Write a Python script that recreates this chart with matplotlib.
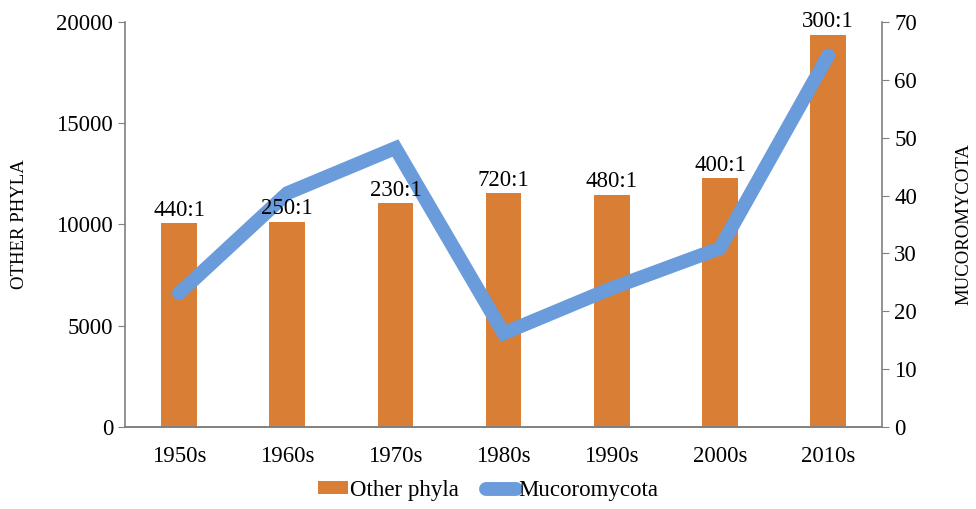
import matplotlib.pyplot as plt
import numpy as np

decades = ["1950s", "1960s", "1970s", "1980s", "1990s", "2000s", "2010s"]
other_phyla = [10050, 10140, 11050, 11540, 11460, 12280, 19360]
mucoromycota = [23.1, 40.4, 48.2, 16.2, 24.0, 30.9, 64.2]
ratios = ["440:1", "250:1", "230:1", "720:1", "480:1", "400:1", "300:1"]

plt.rcParams["font.family"] = ["Liberation Serif", "DejaVu Serif"]
bar_color = "#D87E35"
line_color = "#6A9BDA"
spine_color = "#808080"

fig = plt.figure(figsize=(9.76, 5.09), dpi=100)
ax = fig.add_axes([0.128, 0.161, 0.776, 0.796])
x = np.arange(len(decades))

bars = ax.bar(x, other_phyla, width=0.33, color=bar_color, label="Other phyla", zorder=2)

ax.set_ylim(0, 20000)
ax.set_xlim(-0.5, len(decades) - 0.5)
ax.set_yticks([0, 5000, 10000, 15000, 20000])
ax.set_xticks(x)
ax.set_xticklabels(decades)
ax.set_ylabel("OTHER PHYLA", fontsize=13.5, labelpad=20)
ax.tick_params(axis="y", labelsize=16.5, length=5, color=spine_color)
ax.tick_params(axis="x", labelsize=16.5, length=0, pad=14)

ax2 = ax.twinx()
line, = ax2.plot(x, mucoromycota, color=line_color, linewidth=10,
                 solid_joinstyle="miter", solid_capstyle="round",
                 label="Mucoromycota", zorder=3)
ax2.set_ylim(0, 70)
ax2.set_yticks(range(0, 71, 10))
ax2.set_ylabel("MUCOROMYCOTA", fontsize=13.5, labelpad=28)
ax2.tick_params(axis="y", labelsize=16.5, length=5, color=spine_color)

# ratio labels sit above the bars and on top of the line
for xi, v, r in zip(x, other_phyla, ratios):
    ax2.text(xi, v + 120, r, transform=ax.transData, ha="center", va="bottom",
             fontsize=16.5, zorder=5)

for a in (ax, ax2):
    a.spines["top"].set_visible(False)
    for s in a.spines.values():
        s.set_color(spine_color)
        s.set_linewidth(1.2)
ax.spines["right"].set_visible(False)
ax2.spines["left"].set_visible(False)

fig.legend(handles=[bars, line], loc="lower center", ncol=2, frameon=False,
           fontsize=16.5, bbox_to_anchor=(0.5, -0.025), handlelength=1.3,
           handleheight=0.5, handletextpad=0.1, columnspacing=1.2)

fig.savefig("out.png", dpi=100)
